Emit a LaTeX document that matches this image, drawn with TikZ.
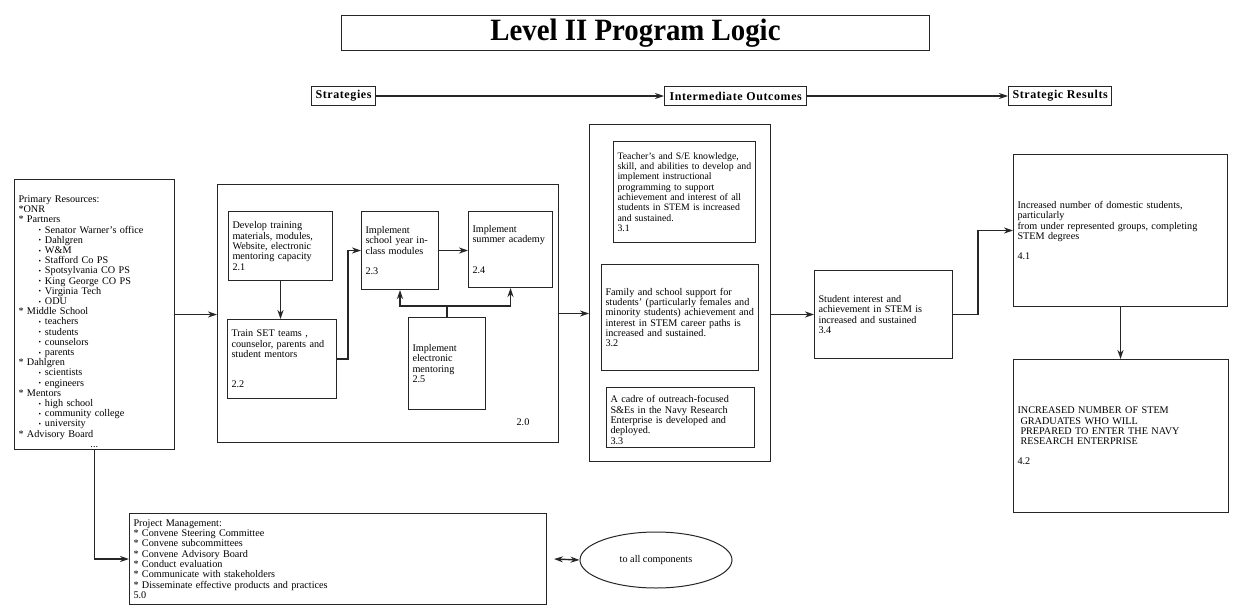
\documentclass[tikz,border=0pt]{standalone}
\usepackage{fontspec}
\setmainfont{Liberation Serif}
\newfontfamily\hdfont[LetterSpace=5]{Liberation Serif}
\usetikzlibrary{shapes.geometric,arrows.meta}
\newcommand{\resbul}{\hspace*{20pt}\raisebox{.5pt}{\scalebox{.7}{\textbullet}}\hspace{4pt}}

\begin{document}
\begin{tikzpicture}[x=1pt, y=-1pt, line width=1pt, draw=black!85, font=\fontsize{10.2}{10.3}\selectfont]
\tikzstyle{box}=[draw, rectangle, anchor=north west, align=left, inner xsep=4pt, inner ysep=2pt]
\tikzstyle{hdr}=[draw, rectangle, anchor=north west, inner xsep=4pt, inner ysep=0pt, minimum height=19pt, font=\hdfont\bfseries\fontsize{12}{12}\selectfont]
\tikzstyle{arr}=[-{Stealth[length=9pt, width=6pt]}, line width=1.4pt]
\useasboundingbox (0,0) rectangle (1235,613);

    \node [draw, anchor=north west, minimum width=588pt, minimum height=33pt, font=\fontsize{31}{33}\selectfont\bfseries] (title) at (341,15) {\scalebox{.93}[1]{Level II Program Logic}};

    \node [hdr] (strat) at (311,86) {Strategies};
    \node [hdr, inner xsep=5pt] (inter) at (664,86) {Intermediate Outcomes};
    \node [hdr] (sres) at (1008,86) {Strategic Results};
    \draw [arr] (strat) -- (inter);
    \draw [arr] (inter) -- (sres);

    \node [box, minimum width=160pt, text width=152pt, minimum height=270pt, font=\fontsize{10.2}{10.2}\selectfont] (res) at (14,179) {\rule{0pt}{21pt}Primary Resources:\\{*}ONR\\{*} Partners\\
        \resbul Senator Warner's office\\\resbul Dahlgren\\\resbul W\&M\\\resbul Stafford Co PS\\
        \resbul Spotsylvania CO PS\\\resbul King George CO PS\\\resbul Virginia Tech\\\resbul ODU\\
        {*} Middle School\\\resbul teachers\\\resbul students\\\resbul counselors\\\resbul parents\\
        {*} Dahlgren\\\resbul scientists\\\resbul engineers\\
        {*} Mentors\\\resbul high school\\\resbul community college\\\resbul university\\
        {*} Advisory Board\\\hspace*{72pt}...};

    \node [box, minimum width=341pt, minimum height=258pt] (ctr2) at (217,184) {};
    \node (lbl2) at (523,422) {2.0};
    \node [box, minimum width=104pt, text width=96pt, minimum height=69pt] (n21) at (228,211) {Develop training\\materials, modules,\\Website, electronic\\mentoring capacity\\2.1};
    \node [box, minimum width=109pt, text width=101pt, minimum height=79pt] (n22) at (227,319) {Train SET teams ,\\counselor, parents and\\student mentors\\[20pt]2.2};
    \node [box, minimum width=77pt, text width=69pt, minimum height=78pt] (n23) at (361,211) {Implement\\school year in-\\class modules\\[10pt]2.3};
    \node [box, minimum width=84pt, text width=76pt, minimum height=76pt] (n24) at (468,211) {Implement\\summer academy\\[20pt]2.4};
    \node [box, minimum width=77pt, text width=69pt, minimum height=92pt] (n25) at (408,317) {Implement\\electronic\\mentoring\\2.5};
    \draw [arr] (n21.south) -- (n21.south |- n22.north);
    \draw [arr] (n22.east) -- ++(11,0) |- (n23.west);
    \draw [arr] (n23.east) -- (n23.east -| n24.west);
    \draw [line width=1.4pt] (n25.north) -- ++(0,-11) coordinate (j25);
    \draw [arr] (j25) -| (n23.south);
    \draw [arr] (j25) -| (n24.south);

    \node [box, minimum width=181pt, minimum height=337pt] (ctr3) at (589,124) {};
    \node [box, minimum width=142pt, text width=134pt, minimum height=101pt, font=\fontsize{9.8}{10.3}\selectfont] (n31) at (613,141) {Teacher's and S/E knowledge,\\\mbox{skill, and abilities to develop and}\\implement instructional\\programming to support\\\mbox{achievement and interest of all}\\\mbox{students in STEM is increased}\\and sustained.\\3.1};
    \node [box, minimum width=157pt, text width=149pt, minimum height=106pt] (n32) at (601,264) {Family and school support for\\\mbox{students' (particularly females and}\\\mbox{minority students) achievement and}\\interest in STEM career paths is\\increased and sustained.\\3.2};
    \node [box, minimum width=148pt, text width=140pt, inner ysep=0pt, minimum height=60pt] (n33) at (606,387) {\rule{0pt}{12pt}A cadre of outreach-focused\\S\&Es in the Navy Research\\Enterprise is developed and\\deployed.\\3.3};

    \node [box, minimum width=138pt, text width=130pt, minimum height=88pt] (n34) at (814,270) {Student interest and\\achievement in STEM is\\increased and sustained\\3.4};
    \node [box, minimum width=214pt, text width=206pt, minimum height=152pt] (n41) at (1013,154) {Increased number of domestic students,\\particularly\\\mbox{from under represented groups, completing}\\STEM degrees\\[10pt]4.1};
    \node [box, minimum width=215pt, text width=207pt, minimum height=153pt] (n42) at (1013,359) {INCREASED NUMBER OF STEM\\\hspace*{3pt}GRADUATES WHO WILL\\\hspace*{3pt}PREPARED TO ENTER THE NAVY\\\hspace*{3pt}RESEARCH ENTERPRISE\\[10pt]4.2};

    \draw [arr] (res.east) -- (res.east -| ctr2.west);
    \draw [arr] (ctr2.east) -- (ctr2.east -| ctr3.west);
    \draw [arr] (ctr3.east |- n34.west) -- (n34.west);
    \draw [arr] (n34.east) -- ++(25,0) |- (n41.west);
    \draw [arr] (n41.south) -- (n41.south |- n42.north);

    \node [box, minimum width=417pt, text width=409pt, minimum height=91pt] (pm) at (129,513) {Project Management:\\{*} Convene Steering Committee\\{*} Convene subcommittees\\{*} Convene Advisory Board\\{*} Conduct evaluation\\{*} Communicate with stakeholders\\{*} Disseminate effective products and practices\\5.0};
    \node [draw, ellipse, minimum width=152pt, minimum height=56pt] (ell) at (656,560) {to all components};
    \draw [arr] (res.south) |- (pm.west);
    \draw [{Stealth[length=9pt, width=6pt]}-{Stealth[length=9pt, width=6pt]}, line width=1.4pt] ([xshift=7pt]pm.east) -- (ell.west);
\end{tikzpicture}
\end{document}
